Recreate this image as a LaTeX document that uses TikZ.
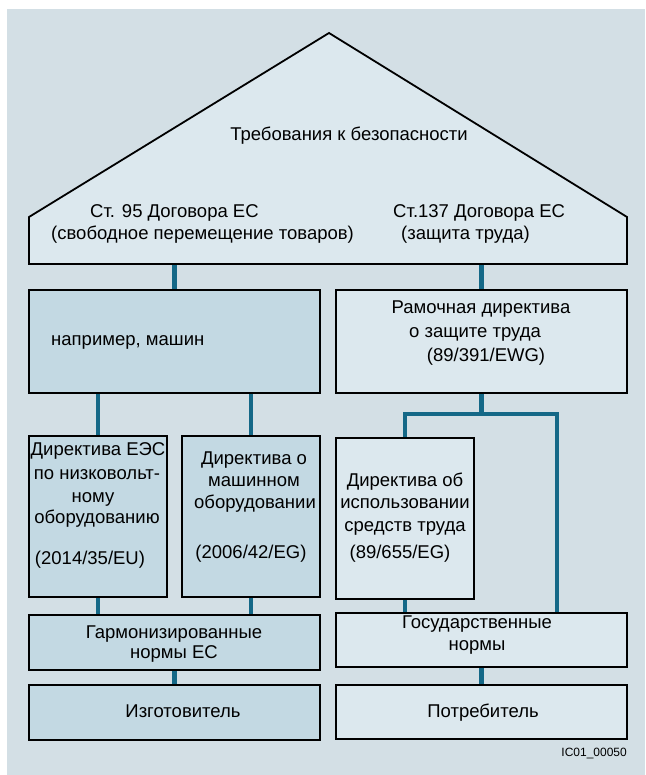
\documentclass[tikz,border=0pt]{standalone}
\usepackage{fontspec}
\setmainfont{Liberation Sans}
\definecolor{bggray}{RGB}{211,223,229}
\definecolor{lightfill}{RGB}{220,232,238}
\definecolor{darkfill}{RGB}{195,217,227}
\definecolor{teal}{RGB}{20,104,135}
\pgfdeclarelayer{connlayer}
\pgfdeclarelayer{backdrop}
\pgfsetlayers{backdrop,connlayer,main}
\tikzset{
  boxline/.style={draw=black, line width=1.8pt},
  darkbox/.style={boxline, fill=darkfill, inner sep=0pt},
  lightbox/.style={boxline, fill=lightfill, inner sep=0pt},
  conn/.style={draw=teal, line width=4.6pt},
  txt/.style={font=\fontsize{18.5}{22}\selectfont, inner sep=0pt, anchor=base},
  txtw/.style={txt, anchor=base west},
}
\begin{document}
\begin{tikzpicture}[x=1pt,y=-1pt]
\useasboundingbox (0,0) rectangle (645,775);
\begin{pgfonlayer}{backdrop}
\fill[white] (0,0) rectangle (645,775);
\fill[bggray] (7,9) rectangle (645,775);
\end{pgfonlayer}

% pentagon roof
\draw[boxline, fill=lightfill, line join=miter]
  (29,264) -- (29,217) -- (329,33) -- (627,217) -- (627,264) -- cycle;
\coordinate (pentL) at (174.5,264);
\coordinate (pentR) at (481.5,264);

% boxes
\node[darkbox, minimum width=291pt, minimum height=103pt] (boxL) at (174.5,341.5) {};
\node[lightbox, minimum width=291pt, minimum height=103pt] (boxR) at (481.5,341.5) {};
\node[darkbox, minimum width=138pt, minimum height=161pt] (dir1) at (98,516.5) {};
\node[darkbox, minimum width=138pt, minimum height=161pt] (dir2) at (251,516.5) {};
\node[lightbox, minimum width=138pt, minimum height=161pt] (dir3) at (405,518.5) {};
\node[darkbox, minimum width=291pt, minimum height=55pt] (harm) at (174.5,642.5) {};
\node[lightbox, minimum width=291pt, minimum height=54pt] (gov) at (481.5,640) {};
\node[darkbox, minimum width=291pt, minimum height=55pt] (manuf) at (174.5,712.5) {};
\node[lightbox, minimum width=291pt, minimum height=54pt] (cons) at (481.5,712) {};
\coordinate (split) at (481.5,414);
\coordinate (splitL) at (405,414);
\coordinate (splitR) at (557,414);

% connectors (behind boxes)
\begin{pgfonlayer}{connlayer}
\draw[conn] (pentL) -- (boxL.north);
\draw[conn] (pentR) -- (boxR.north);
\draw[conn] (dir1.north |- boxL.south) -- (dir1.north);
\draw[conn] (dir2.north |- boxL.south) -- (dir2.north);
\draw[conn] (boxR.south) -- (split);
\draw[conn, line cap=rect] (splitL) -- (splitR);
\draw[conn] (splitL) -- (dir3.north);
\draw[conn] (splitR) -- (splitR |- gov.north);
\draw[conn] (dir1.south) -- (dir1.south |- harm.north);
\draw[conn] (dir2.south) -- (dir2.south |- harm.north);
\draw[conn] (dir3.south) -- (dir3.south |- gov.north);
\draw[conn] (harm.south) -- (manuf.north);
\draw[conn] (gov.south) -- (cons.north);
\end{pgfonlayer}

% texts
\node[txt] (title) at (349,140.5) {Требования к безопасности};
\node[txtw] (a1) at (90,217.5) {Ст. 95 Договора ЕС};
\node[txtw] (a2) at (51,239.5) {(свободное перемещение товаров)};
\node[txtw] (b1) at (393,217.5) {Ст.137 Договора ЕС};
\node[txtw] (b2) at (401,239.5) {(защита труда)};
\node[txtw] (n1) at (51,345.5) {например, машин};
\node[txt] (r1) at (481,313.5) {Рамочная директива};
\node[txt] (r2) at (475,337.5) {о защите труда};
\node[txt] (r3) at (486,361.5) {(89/391/EWG)};
\node[txt] (d11) at (98,455.5) {Директива ЕЭС};
\node[txt] (d12) at (97,479.5) {по низковольт-};
\node[txt] (d13) at (93,502.5) {ному};
\node[txt] (d14) at (97,523.5) {оборудованию};
\node[txt] (d15) at (90,564.5) {(2014/35/EU)};
\node[txt] (d21) at (254,464.5) {Директива о};
\node[txt] (d22) at (254,486.5) {машинном};
\node[txt] (d23) at (255,508.5) {оборудовании};
\node[txt] (d24) at (251,558.5) {(2006/42/EG)};
\node[txt] (d31) at (405,486.5) {Директива об};
\node[txt] (d32) at (405,508.5) {использовании};
\node[txt] (d33) at (405,531.5) {средств труда};
\node[txt] (d34) at (400,558.5) {(89/655/EG)};
\node[txt] (h1) at (174,638.5) {Гармонизированные};
\node[txt] (h2) at (174,658.5) {нормы ЕС};
\node[txt] (g1) at (477,628.5) {Государственные};
\node[txt] (g2) at (477,650.5) {нормы};
\node[txt] (m1) at (183,717.5) {Изготовитель};
\node[txt] (c1) at (483,717.5) {Потребитель};
\node[font=\fontsize{12}{14}\selectfont, inner sep=0pt, anchor=base east] (ic) at (627,756) {IC01\_00050};
\end{tikzpicture}
\end{document}
